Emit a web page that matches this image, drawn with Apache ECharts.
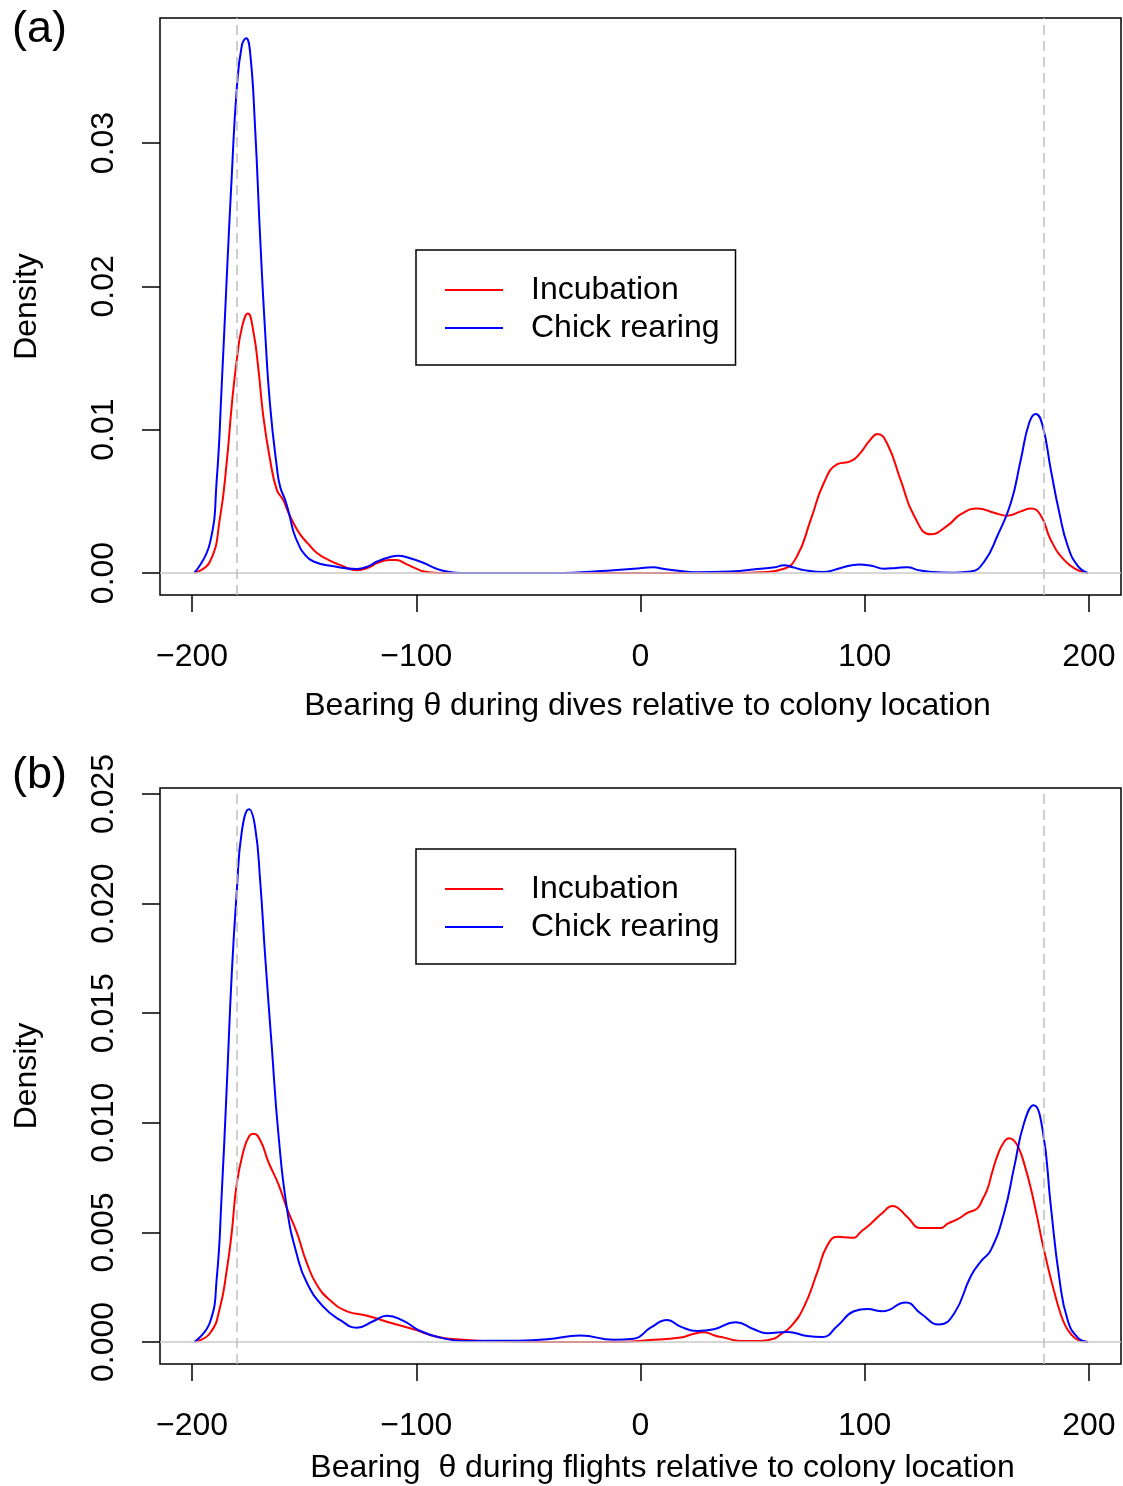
<!DOCTYPE html>
<html>
<head>
<meta charset="utf-8">
<title>Bearing density</title>
<script src="https://cdn.jsdelivr.net/npm/echarts@6/dist/echarts.min.js"></script>
<style>
  html, body { margin: 0; padding: 0; background: #fff; }
  #chart { width: 1123px; height: 1486px; }
</style>
</head>
<body>
<div id="chart"></div>
<script>
// Kernel density of bearing θ (degrees) relative to the colony, [bearing, density]
const seriesNames = ['Incubation', 'Chick rearing'];
const xTicks = [-200, -100, 0, 100, 200];
const yTicksDives = [0, 0.01, 0.02, 0.03];
const yTicksFlights = [0, 0.005, 0.01, 0.015, 0.02, 0.025];
const colonyLines = [-180, 180];

// (a) dives
const divesIncubation = [
  [-199, 0], [-192, 0.0008], [-187.5, 0.0039], [-184.5, 0.0078], [-182.3, 0.0117],
  [-180.1, 0.0148], [-177.8, 0.0171], [-175.1, 0.0181], [-172.6, 0.0168], [-170.4, 0.0142],
  [-168.2, 0.0109], [-165.2, 0.0079], [-162.2, 0.0058], [-159.4, 0.0051], [-157, 0.0042],
  [-154.5, 0.0034], [-151.8, 0.0027], [-148, 0.002], [-144.3, 0.0014], [-139, 0.0009],
  [-133, 0.0005], [-126.5, 0.0002], [-121, 0.0004], [-117.5, 0.0007], [-112, 0.0009],
  [-109, 0.0009], [-104.2, 0.0006], [-100, 0.0003], [-96.7, 0.0001], [-90, 0], [0, 0],
  [44.6, 0], [53.6, 0.00005], [64, 0.0003], [69.9, 0.0012], [75.9, 0.0037], [81.8, 0.0063],
  [87.8, 0.0076], [93.8, 0.0078], [98.2, 0.0084], [102, 0.0092], [105.7, 0.0097],
  [110.1, 0.009], [116, 0.0065], [122, 0.004], [129.5, 0.0027], [136.9, 0.0033],
  [142.9, 0.0041], [150.3, 0.0045], [157.7, 0.0042], [163.7, 0.004], [169.6, 0.0043],
  [174.1, 0.0045], [178.6, 0.004], [183, 0.0023], [189, 0.0009], [195, 0.0002], [199.5, 0]
];
const divesChick = [
  [-199, 0], [-192, 0.0021], [-189, 0.0065], [-186.8, 0.013], [-184.5, 0.0207],
  [-182.3, 0.0277], [-180.1, 0.0337], [-177.8, 0.0368], [-175.9, 0.0373], [-174.1, 0.0363],
  [-171.9, 0.0311], [-169.6, 0.0233], [-167.4, 0.0168], [-165.2, 0.0117], [-162.2, 0.0074],
  [-160.7, 0.006], [-158.5, 0.0051], [-156.5, 0.004], [-154.8, 0.0029], [-152.5, 0.002],
  [-150.3, 0.0014], [-145.8, 0.0008], [-136.9, 0.00047], [-126.5, 0.00028], [-121, 0.0005],
  [-117.5, 0.0008], [-112, 0.0011], [-108, 0.0012], [-104.2, 0.0011], [-96.7, 0.0007],
  [-91, 0.0003], [-86.3, 0.0001], [-80, 0], [-40, 0], [-26.8, 0.00005], [-12, 0.0002],
  [-3, 0.0003], [5.9, 0.0004], [10, 0.0003], [14.9, 0.0002], [25, 0.00005], [40, 0.0001],
  [53.6, 0.0003], [60, 0.0004], [64, 0.00054], [68, 0.0004], [72.9, 0.0002], [81.8, 0.00007],
  [89.3, 0.00035], [97.5, 0.0006], [103, 0.0005], [108.6, 0.0003], [114, 0.00035],
  [119, 0.0004], [124, 0.0002], [128, 0.0001], [139.9, 0.00002], [147.3, 0.0001],
  [153.3, 0.0008], [159.2, 0.0026], [165.2, 0.0049], [169.6, 0.0079], [173.4, 0.0105],
  [176.3, 0.0111], [179.3, 0.0103], [183, 0.0072], [186.8, 0.0042], [190.5, 0.0019],
  [195, 0.0005], [199.5, 0]
];

// (b) flights
const flightsIncubation = [
  [-199, 0], [-192, 0.0004], [-187.5, 0.0016], [-184.5, 0.0033], [-182.3, 0.005],
  [-180.1, 0.0072], [-177.1, 0.0087], [-174.5, 0.0094], [-172.6, 0.0095], [-169.6, 0.0092],
  [-165.9, 0.0082], [-161.5, 0.0072], [-157.7, 0.0061], [-153.3, 0.005], [-148.8, 0.0036],
  [-144.3, 0.0026], [-138.4, 0.0019], [-130.9, 0.0014], [-122, 0.0012], [-111.6, 0.00088],
  [-101.2, 0.00058], [-90.8, 0.00024], [-78.9, 0.0001], [-64, 0.00003], [-40, 0], [-10, 0],
  [3, 0.00008], [17.9, 0.0002], [23, 0.00035], [28.3, 0.00045], [33, 0.0003], [37.2, 0.0002],
  [44.6, 0.00005], [53.6, 0.00005], [59.5, 0.00015], [62.5, 0.00035], [67, 0.0007],
  [72.9, 0.0016], [78.9, 0.0032], [83.3, 0.0044], [87.8, 0.0048], [91, 0.00478],
  [95.2, 0.00476], [98, 0.005], [102.7, 0.0054], [108, 0.0059], [112.4, 0.0062],
  [115, 0.0061], [119, 0.0057], [125, 0.0052], [129, 0.0052], [133.9, 0.0052], [137, 0.0054],
  [141.4, 0.0056], [146, 0.0059], [150.3, 0.0061], [152.5, 0.0065], [154.8, 0.007],
  [157, 0.0078], [159.2, 0.0085], [162, 0.0091], [164.4, 0.0093], [166.5, 0.0092],
  [168.9, 0.0088], [171.5, 0.008], [174.1, 0.007], [176.7, 0.0058], [179.3, 0.0045],
  [182, 0.0033], [184.5, 0.0023], [187, 0.0014], [189.7, 0.0007], [192.5, 0.0003],
  [195, 0.0001], [199.5, 0]
];
const flightsChick = [
  [-199, 0], [-192, 0.0009], [-189, 0.0029], [-186.8, 0.0067], [-184.5, 0.0117],
  [-182.3, 0.0168], [-180.1, 0.0205], [-177.8, 0.0233], [-174.6, 0.0243], [-171.9, 0.0235],
  [-169.6, 0.021], [-167.4, 0.0176], [-164.4, 0.0134], [-161.5, 0.0095], [-157.7, 0.0061],
  [-153.3, 0.004], [-148.8, 0.0027], [-141.4, 0.0016], [-133.9, 0.001], [-126.5, 0.00065],
  [-119, 0.00096], [-113.1, 0.0012], [-105.7, 0.00096], [-98.2, 0.0005], [-89.3, 0.0002],
  [-78.9, 0.00005], [-56.5, 0.00006], [-41.7, 0.00012], [-26.8, 0.0003], [-12, 0.0001],
  [-3, 0.00015], [4.5, 0.00065], [11.9, 0.001], [17.9, 0.0007], [25.3, 0.0005],
  [32.7, 0.00058], [42.4, 0.0009], [50.6, 0.00058], [56.5, 0.0004], [65.5, 0.00046],
  [74.4, 0.00027], [81.1, 0.00023], [87.8, 0.00073], [95.2, 0.0014], [101.2, 0.0015],
  [107.9, 0.0014], [118.3, 0.0018], [125, 0.0013], [133.2, 0.0008], [139.9, 0.0013],
  [147.3, 0.003], [152, 0.0037], [156.3, 0.0042], [162.2, 0.0059], [166.7, 0.008],
  [171.1, 0.01], [175.3, 0.0108], [179.3, 0.0097], [183, 0.0062], [186.8, 0.0029],
  [190.5, 0.001], [195, 0.0002], [199.5, 0]
];

const FONT = "'Liberation Sans', Arial, Helvetica, sans-serif";
const FS = 32;
const RED = '#ff0000';
const BLUE = '#0000ff';

function minusFmt(v) { return v < 0 ? '\u2212' + Math.abs(v) : String(v); }

function xAxisFor(gridIndex, name, nameGap, shift) {
  return {
    gridIndex: gridIndex, type: 'value', min: -214.3, max: 214.3,
    axisLine: { show: false, onZero: false },
    splitLine: { show: false },
    axisTick: { show: true, length: 17, customValues: xTicks, lineStyle: { color: '#000', width: 1.5 } },
    axisLabel: { customValues: xTicks, formatter: minusFmt, fontSize: FS, color: '#000', fontFamily: FONT, margin: 46 },
    name: name, nameLocation: 'middle', nameGap: nameGap,
    nameTextStyle: { fontSize: FS, color: '#000', fontFamily: FONT, padding: [0, 0, 0, shift] }
  };
}
function yAxisFor(gridIndex, min, max, ticks, digits) {
  return {
    gridIndex: gridIndex, type: 'value', min: min, max: max,
    axisLine: { show: false, onZero: false },
    splitLine: { show: false },
    axisTick: { show: true, length: 18, customValues: ticks, lineStyle: { color: '#000', width: 1.5 } },
    axisLabel: { customValues: ticks, formatter: v => v.toFixed(digits), rotate: 90,
                 fontSize: FS, color: '#000', fontFamily: FONT, margin: 40 },
    name: 'Density', nameLocation: 'middle', nameRotate: 90, nameGap: 117,
    nameTextStyle: { fontSize: FS, color: '#000', fontFamily: FONT }
  };
}
function legendFor(top) {
  return {
    left: 416, top: top, orient: 'vertical',
    data: seriesNames, icon: 'rect', itemWidth: 58, itemHeight: 2, itemGap: 0,
    padding: [21, 16, 18, 29],
    borderColor: '#000', borderWidth: 1.5, backgroundColor: '#fff',
    selectedMode: false,
    textStyle: { fontSize: FS, color: '#000', fontFamily: FONT, lineHeight: 38, padding: [0, 0, 0, 23] }
  };
}
function refLines() {
  return {
    silent: true, symbol: ['none', 'none'], animation: false,
    label: { show: false },
    lineStyle: { color: '#bebebe', width: 1.5 },
    data: [
      { yAxis: 0, lineStyle: { type: 'solid', color: '#c8c8c8' } },
      ...colonyLines.map(v => ({ xAxis: v, lineStyle: { type: [10, 6] } }))
    ]
  };
}
function curve(name, data, color, idx, withLines) {
  const s = {
    name: name, type: 'line', data: data, xAxisIndex: idx, yAxisIndex: idx,
    showSymbol: false, symbol: 'none', smooth: 0.5,
    lineStyle: { color: color, width: 2 }, itemStyle: { color: color }
  };
  if (withLines) s.markLine = refLines();
  return s;
}

const chart = echarts.init(document.getElementById('chart'), null, { renderer: 'canvas' });
chart.setOption({
  animation: false,
  backgroundColor: '#fff',
  title: [
    { text: '(a)', left: 7, top: 2, textStyle: { fontSize: 45, fontWeight: 'normal', color: '#000', fontFamily: FONT } },
    { text: '(b)', left: 7, top: 748, textStyle: { fontSize: 45, fontWeight: 'normal', color: '#000', fontFamily: FONT } }
  ],
  grid: [
    { left: 160, top: 18, width: 961, height: 577, show: true, borderColor: '#000', borderWidth: 1.5, backgroundColor: 'transparent' },
    { left: 160, top: 788, width: 961, height: 576, show: true, borderColor: '#000', borderWidth: 1.5, backgroundColor: 'transparent' }
  ],
  xAxis: [
    xAxisFor(0, 'Bearing \u03b8 during dives relative to colony location', 95, 14),
    xAxisFor(1, 'Bearing  \u03b8 during flights relative to colony location', 88, 44)
  ],
  yAxis: [
    yAxisFor(0, -0.001535, 0.03872, yTicksDives, 2),
    yAxisFor(1, -0.001004, 0.025274, yTicksFlights, 3)
  ],
  legend: [legendFor(250), legendFor(849)],
  series: [
    curve(seriesNames[0], divesIncubation, RED, 0, false),
    curve(seriesNames[1], divesChick, BLUE, 0, true),
    curve(seriesNames[0], flightsIncubation, RED, 1, false),
    curve(seriesNames[1], flightsChick, BLUE, 1, true)
  ]
});
</script>
</body>
</html>
